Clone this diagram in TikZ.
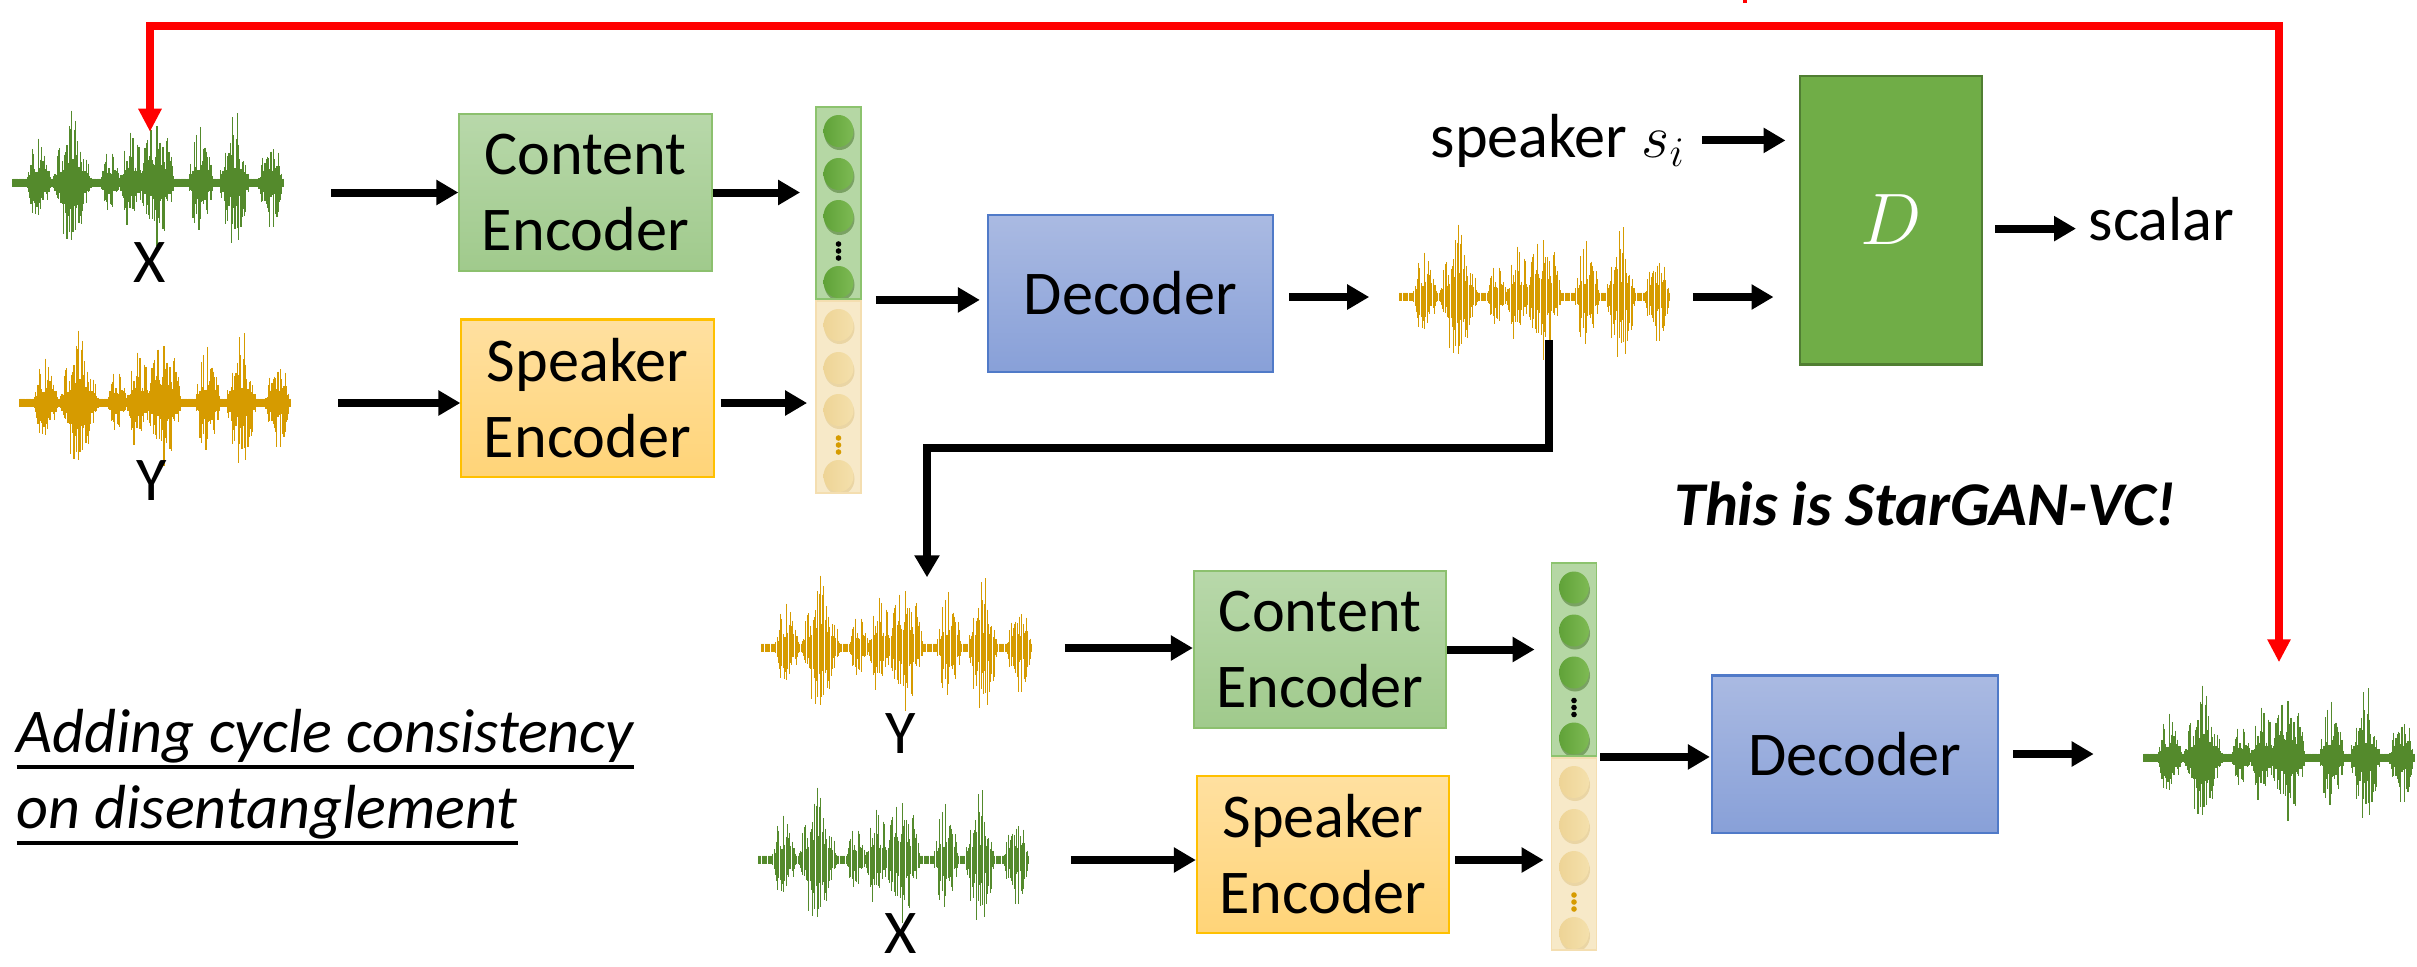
\documentclass[tikz,border=0pt]{standalone}
\usepackage{fontspec}
\setmainfont{Carlito}
\usetikzlibrary{arrows.meta,calc,positioning}

\definecolor{wgreen}{RGB}{84,138,44}
\definecolor{worange}{RGB}{214,155,0}
% encoder / decoder blocks
\definecolor{celine}{RGB}{140,192,110}
\definecolor{cetop}{RGB}{184,216,170}
\definecolor{cebot}{RGB}{160,202,140}
\definecolor{seline}{RGB}{255,192,0}
\definecolor{setop}{RGB}{255,224,160}
\definecolor{sebot}{RGB}{255,212,120}
\definecolor{decline}{RGB}{80,122,200}
\definecolor{dectop}{RGB}{170,186,226}
\definecolor{decbot}{RGB}{136,160,216}
\definecolor{dline}{RGB}{80,126,50}
\definecolor{dfill}{RGB}{112,173,71}
% latent vectors
\definecolor{vgline}{RGB}{140,195,110}
\definecolor{vgfill}{RGB}{181,215,164}
\definecolor{vgshade}{RGB}{84,128,56}
\definecolor{vgballA}{RGB}{96,162,56}
\definecolor{vgballB}{RGB}{126,186,84}
\definecolor{vgdot}{RGB}{0,0,0}
\definecolor{vbline}{RGB}{244,222,176}
\definecolor{vbfill}{RGB}{247,233,200}
\definecolor{vbshade}{RGB}{226,200,140}
\definecolor{vbballA}{RGB}{238,212,150}
\definecolor{vbballB}{RGB}{244,224,172}
\definecolor{vbdot}{RGB}{214,155,0}

% underlined caption text
\newcommand{\undertext}[1]{\setbox0\hbox{#1}\rlap{\rule[-0.165cm]{\wd0}{1.1pt}}\box0}

\begin{document}
\begin{tikzpicture}[x=0.01cm, y=-0.01cm,
  every node/.style={font=\fontsize{17.7}{21.6}\selectfont},
  blk/.style={draw=#1line, top color=#1top, bottom color=#1bot, line width=0.6pt,
    minimum width=2.52cm, minimum height=1.57cm, align=center, inner sep=0pt},
  dbox/.style={draw=dline, fill=dfill, line width=0.8pt, text=white,
    minimum width=1.82cm, minimum height=2.88cm, inner sep=0pt},
  txt/.style={inner sep=0pt},
  wave/.style={minimum width=2.73cm, minimum height=1.5cm, inner sep=0pt, fill=white,
    path picture={
      \begin{scope}[shift={(path picture bounding box.center)}]
        \pgfmathsetseed{1234}
        \foreach \i in {0,...,225}{
          \pgfmathsetmacro\wt{\i/225}
          \pgfmathsetmacro\wb{max(0,
            0.6*(1-((\wt-0.095)/0.045)^2), 1.0*(1-((\wt-0.22)/0.07)^2),
            0.45*(1-((\wt-0.36)/0.035)^2), 0.75*(1-((\wt-0.44)/0.045)^2),
            1.0*(1-((\wt-0.535)/0.065)^2), 0.85*(1-((\wt-0.695)/0.045)^2),
            1.0*(1-((\wt-0.82)/0.055)^2),  0.7*(1-((\wt-0.955)/0.045)^2))}
          \pgfmathsetmacro\wup{74*(0.06+0.94*\wb*(0.15+0.85*rnd^1.6))}
          \pgfmathsetmacro\wdn{66*(0.06+0.94*\wb*(0.15+0.85*rnd^1.6))}
          \draw[#1, line width=0.32pt] ({\wt*270-135},-\wup) -- ({\wt*270-135},\wdn);
        }
      \end{scope}}},
  vec/.style={draw=#1line, fill=#1fill, line width=0.5pt, inner sep=0pt,
    minimum width=0.45cm, minimum height=1.92cm,
    path picture={
      \begin{scope}[shift={(path picture bounding box.center)}]
        \foreach \dy in {-72,-29,13,79}{
          \fill[#1shade, opacity=0.6] (1,\dy+3) ellipse[x radius=15, y radius=16];
          \shade[left color=#1ballA, right color=#1ballB] (0,\dy) ellipse[x radius=15, y radius=16];
        }
        \foreach \dy in {41,48,55} \fill[#1dot] (0,\dy) circle[radius=2.8];
      \end{scope}}},
  arr/.style={-{Triangle[width=0.24cm,length=0.22cm]}, line width=0.08cm},
  redarr/.style={{Triangle[width=0.22cm,length=0.23cm]}-{Triangle[width=0.22cm,length=0.23cm]},
    line width=0.08cm, draw=red}]

\useasboundingbox (0,0) rectangle (2417,966);

% first pass: X + Y -> decoder -> discriminator
\node[wave=wgreen] (x1) at (148,183) {};
\node[wave=worange] (y1) at (155,403) {};
\node[txt, anchor=base] (lx1) at (150,282) {X};
\node[txt, anchor=base] (ly1) at (152,500) {Y};
\node[blk=ce] (ce1) at (585.5,192.5) {Content\\Encoder};
\node[blk=se] (se1) at (587.5,398) {Speaker\\Encoder};
\node[vec=vg] (c1g) at (838.5,203) {};
\node[vec=vb] (c1b) at (838.5,397) {};
\node[blk=dec, minimum width=2.85cm] (dec1) at (1130.5,293.5) {Decoder};
\node[wave=worange] (mw) at (1534.5,297) {};
\node[dbox] (dis) at (1891,220) {\fontsize{20}{24}\selectfont$D$\hspace{0.2cm}};
\node[txt, anchor=base west] (spk) at (1430,157) {speaker $s_i$};
\node[txt, anchor=base west] (scl) at (2088,240) {scalar};
\node[txt, anchor=base, font=\fontsize{17.7}{21.6}\selectfont\bfseries\itshape] (star) at (1925,525) {This is StarGAN-VC!};

\draw[arr, shorten <=0.46cm] (ce1.west -| x1.east) -- (ce1.west);
\draw[arr, shorten >=0.15cm] (ce1.east) -- (ce1.east -| c1g.west);
\draw[arr, shorten <=0.46cm] (y1.east) -- (y1.east -| se1.west);
\draw[arr, shorten <=0.06cm, shorten >=0.08cm] (se1.east |- y1.east) -- (y1.east -| c1b.west);
\draw[arr, shorten <=0.14cm, shorten >=0.07cm] (c1g.south east) -- (c1g.south east -| dec1.west);
\draw[arr, shorten <=0.15cm, shorten >=0.28cm] (dec1.east |- mw.west) -- (mw.west);
\draw[arr, shorten <=0.21cm, shorten >=0.25cm] (mw.east) -- (mw.east -| dis.west);
\draw[arr, shorten <=0.16cm, shorten >=0.13cm] (spk.east) -- (spk.east -| dis.west);
\coordinate (sclA) at ($(scl.west)+(-12,10)$);
\draw[arr, shorten <=0.12cm] (dis.east |- sclA) -- (sclA);

% second pass: converted Y + original X -> reconstruction
\node[wave=worange] (y2) at (896.5,648) {};
\node[wave=wgreen] (x2) at (893.5,860) {};
\node[txt, anchor=base] (ly2) at (901,753) {Y};
\node[txt, anchor=base] (lx2) at (901,953) {X};
\node[blk=ce] (ce2) at (1320,649.5) {Content\\Encoder};
\node[blk=se] (se2) at (1323,854.5) {Speaker\\Encoder};
\node[vec=vg, minimum height=1.93cm] (c2g) at (1574,659.5) {};
\node[vec=vb] (c2b) at (1574,854) {};
\node[blk=dec, minimum width=2.86cm] (dec2) at (1855,754) {Decoder};
\node[wave=wgreen] (out) at (2279,758) {};

\draw[arr, shorten <=0.31cm] (y2.east) -- (y2.east -| ce2.west);
\draw[arr, shorten >=0.16cm] (ce2.east) -- (ce2.east -| c2g.west);
\draw[arr, shorten <=0.4cm] (x2.east) -- (x2.east -| se2.west);
\draw[arr, shorten <=0.05cm, shorten >=0.07cm] (se2.east |- x2.east) -- (x2.east -| c2b.west);
\draw[arr, shorten <=0.03cm, shorten >=0.01cm] (c2g.south east) -- (c2g.south east -| dec2.west);
\draw[arr, shorten <=0.14cm, shorten >=0.48cm] (dec2.east) -- (dec2.east -| out.west);

% converted speech fed back in
\coordinate (tap) at ($(mw.center)+(14.5,43)$);
\coordinate (y2in) at ($(y2.north)+(30.5,5)$);
\draw[arr] (tap) -- ++(0,107.5) -| (y2in);

% cycle loss between X and its reconstruction
\coordinate (xin) at ($(x1.north)+(2,24.5)$);
\coordinate (outin) at ($(out.north)+(0,-20)$);
\draw[redarr] (xin) -- ++(0,-106) -| (outin);
\fill[red] (1743,0) rectangle (1747,3);

\node[txt, anchor=base west, font=\fontsize{17.7}{21.6}\selectfont\itshape] (cyc1) at (16,752) {\undertext{Adding cycle consistency}};
\node[txt, anchor=base west, font=\fontsize{17.7}{21.6}\selectfont\itshape] (cyc2) at (16,828) {\undertext{on disentanglement}};

\end{tikzpicture}
\end{document}
